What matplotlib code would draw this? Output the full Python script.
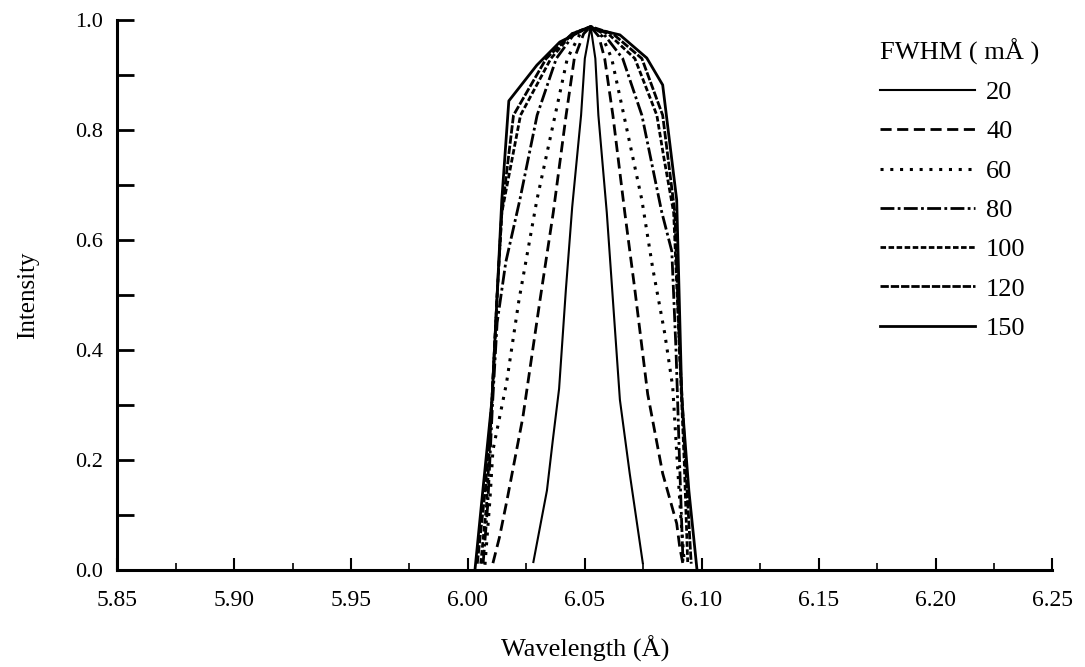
import numpy as np
import matplotlib.pyplot as plt
from matplotlib.ticker import MultipleLocator

plt.rcParams['font.family'] = ['Liberation Serif', 'DejaVu Serif']

# FWHM values (mA) of each profile
fwhm = [20, 40, 60, 80, 100, 120, 150]

# profiles: wavelength (A) and intensity
w20 = [6.0280, 6.0338, 6.0363, 6.0390, 6.0419, 6.0446, 6.0484, 6.0500, 6.0525,
       6.0545, 6.0558, 6.0594, 6.0650, 6.0692, 6.0748]
i20 = [0.015, 0.145, 0.236, 0.330, 0.510, 0.660, 0.827, 0.930, 0.988,
       0.930, 0.827, 0.650, 0.310, 0.176, 0.013]

w40 = [6.0107, 6.0135, 6.0167, 6.0235, 6.0308, 6.0365, 6.0420, 6.0455, 6.0495, 6.0525,
       6.0560, 6.0585, 6.0620, 6.0671, 6.0714, 6.0769, 6.0833, 6.0893, 6.0906, 6.0919]
i40 = [0.013, 0.060, 0.127, 0.278, 0.490, 0.650, 0.827, 0.930, 0.975, 0.988,
       0.970, 0.930, 0.827, 0.650, 0.510, 0.320, 0.176, 0.085, 0.042, 0.013]

w60 = [6.0073, 6.0094, 6.0107, 6.0165, 6.0218, 6.0295, 6.0373, 6.0425, 6.0480, 6.0525,
       6.0575, 6.0615, 6.0667, 6.0744, 6.0790, 6.0842, 6.0876, 6.0895, 6.0910, 6.0925]
i60 = [0.010, 0.127, 0.218, 0.340, 0.490, 0.673, 0.827, 0.930, 0.975, 0.988,
       0.970, 0.930, 0.827, 0.673, 0.550, 0.430, 0.333, 0.200, 0.100, 0.015]

w80 = [6.0065, 6.0085, 6.0105, 6.0125, 6.0162, 6.0222, 6.0296, 6.0378, 6.0455, 6.0525,
       6.0580, 6.0662, 6.0744, 6.0829, 6.0872, 6.0890, 6.0905, 6.0920]
i80 = [0.012, 0.120, 0.300, 0.450, 0.560, 0.673, 0.827, 0.930, 0.975, 0.988,
       0.975, 0.930, 0.827, 0.651, 0.580, 0.400, 0.200, 0.015]

w100 = [6.0055, 6.0080, 6.0103, 6.0125, 6.0145, 6.0225, 6.0355, 6.0445, 6.0525,
        6.0600, 6.0714, 6.0808, 6.0838, 6.0880, 6.0905, 6.0925, 6.0940]
i100 = [0.012, 0.120, 0.310, 0.500, 0.650, 0.827, 0.930, 0.975, 0.988,
        0.975, 0.930, 0.827, 0.750, 0.650, 0.400, 0.200, 0.015]

w120 = [6.0040, 6.0075, 6.0103, 6.0125, 6.0145, 6.0195, 6.0335, 6.0445, 6.0525,
        6.0620, 6.0744, 6.0833, 6.0885, 6.0905, 6.0930, 6.0955]
i120 = [0.012, 0.150, 0.310, 0.500, 0.650, 0.827, 0.930, 0.975, 0.988,
        0.975, 0.930, 0.827, 0.650, 0.400, 0.200, 0.012]

w150 = [6.0030, 6.0065, 6.0103, 6.0125, 6.0145, 6.0175, 6.0295, 6.0393, 6.0509,
        6.0530, 6.0650, 6.0765, 6.0833, 6.0893, 6.0915, 6.0945, 6.0980]
i150 = [0.000, 0.150, 0.310, 0.500, 0.673, 0.853, 0.918, 0.960, 0.985,
        0.985, 0.973, 0.931, 0.882, 0.673, 0.310, 0.145, 0.000]

waves = [w20, w40, w60, w80, w100, w120, w150]
intens = [i20, i40, i60, i80, i100, i120, i150]

styles = ['-', (0, (4, 2)), (0, (1, 2.2)), (0, (5, 1.2, 1, 1.2)),
          (0, (2, 0.9)), (0, (3, 0.7)), '-']
widths = [1.5, 2.0, 2.2, 2.0, 2.0, 2.0, 2.0]

fig = plt.figure(figsize=(10.85, 6.67), dpi=100)
ax = fig.add_axes([0.108, 0.145, 0.862, 0.825])

for w, i, f, ls, lw in zip(waves, intens, fwhm, styles, widths):
    ax.plot(w, i, color='black', linestyle=ls, linewidth=lw, label=str(f))

ax.set_xlim(5.85, 6.25)
ax.set_ylim(0, 1.0)
ax.xaxis.set_major_locator(MultipleLocator(0.05))
ax.xaxis.set_minor_locator(MultipleLocator(0.025))
ax.yaxis.set_major_locator(MultipleLocator(0.2))
ax.yaxis.set_minor_locator(MultipleLocator(0.1))
ax.xaxis.set_major_formatter(plt.FormatStrFormatter('%.2f'))
ax.yaxis.set_major_formatter(plt.FormatStrFormatter('%.1f'))

for s in ['top', 'right']:
    ax.spines[s].set_visible(False)
for s in ['left', 'bottom']:
    ax.spines[s].set_linewidth(2.2)

ax.tick_params(axis='x', which='major', direction='in', length=9, width=1.5, labelsize=17, pad=14)
ax.tick_params(axis='x', which='minor', direction='in', length=5, width=1.2)
ax.tick_params(axis='y', which='both', direction='in', length=12, width=2, labelsize=16, pad=10)

ax.set_xlabel('Wavelength (Å)', fontsize=19, labelpad=18)
ax.set_ylabel('Intensity', fontsize=18, labelpad=26)

leg = fig.legend(title='FWHM ( mÅ )', loc='upper left', bbox_to_anchor=(862 / 1085, 1 - 20 / 667),
                 frameon=False, fontsize=19, title_fontsize=19, handlelength=3.6,
                 labelspacing=0.6, handletextpad=0.4, borderpad=0.2)
leg._legend_box.align = 'left'

fig.savefig('out.png', dpi=100)
